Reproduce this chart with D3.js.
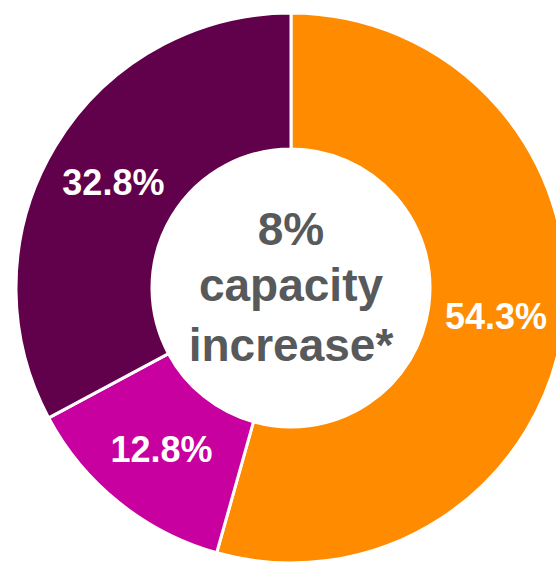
<!DOCTYPE html>
<html>
<head>
<meta charset="utf-8">
<script src="https://cdn.jsdelivr.net/npm/d3@7"></script>
<style>
  html, body { margin: 0; padding: 0; background: #fff; }
  svg { display: block; }
</style>
</head>
<body>
<svg id="chart" width="556" height="562"></svg>
<script>
const categories = ["Orange", "Magenta", "Purple"];
const values = [54.3, 12.8, 32.8];
const labels = ["54.3%", "12.8%", "32.8%"];
const colors = ["#FF8C00", "#C7009F", "#61004B"];
const centerLines = ["8%", "capacity", "increase*"];

const svg = d3.select("#chart");
const cx = 291, cy = 288, outerR = 275, innerR = 139;
const g = svg.append("g").attr("transform", `translate(${cx},${cy})`);

const data = categories.map((c, i) => ({ cat: c, value: values[i], label: labels[i], color: colors[i] }));
const pie = d3.pie().value(d => d.value).sort(null);
const arc = d3.arc().innerRadius(innerR).outerRadius(outerR);
const arcs = pie(data);

g.selectAll("path.slice").data(arcs).join("path")
  .attr("class", "slice")
  .attr("d", arc)
  .attr("fill", d => d.data.color)
  .attr("stroke", "#fff")
  .attr("stroke-width", 3)
  .attr("stroke-linejoin", "miter");

g.selectAll("text.lbl").data(arcs).join("text")
  .attr("class", "lbl")
  .attr("transform", d => `translate(${arc.centroid(d)})`)
  .attr("text-anchor", "middle")
  .attr("dy", "0.36em")
  .attr("fill", "#fff")
  .style("font-family", "Arial, 'Liberation Sans', sans-serif")
  .style("font-weight", "bold")
  .style("font-size", "36px")
  .text(d => d.data.label);

const baselines = [-43, 13, 73];
g.selectAll("text.center").data(centerLines).join("text")
  .attr("class", "center")
  .attr("x", 0)
  .attr("y", (d, i) => baselines[i])
  .attr("text-anchor", "middle")
  .attr("fill", "#58595B")
  .style("font-family", "Arial, 'Liberation Sans', sans-serif")
  .style("font-weight", "bold")
  .style("font-size", "46px")
  .text(d => d);
</script>
</body>
</html>
